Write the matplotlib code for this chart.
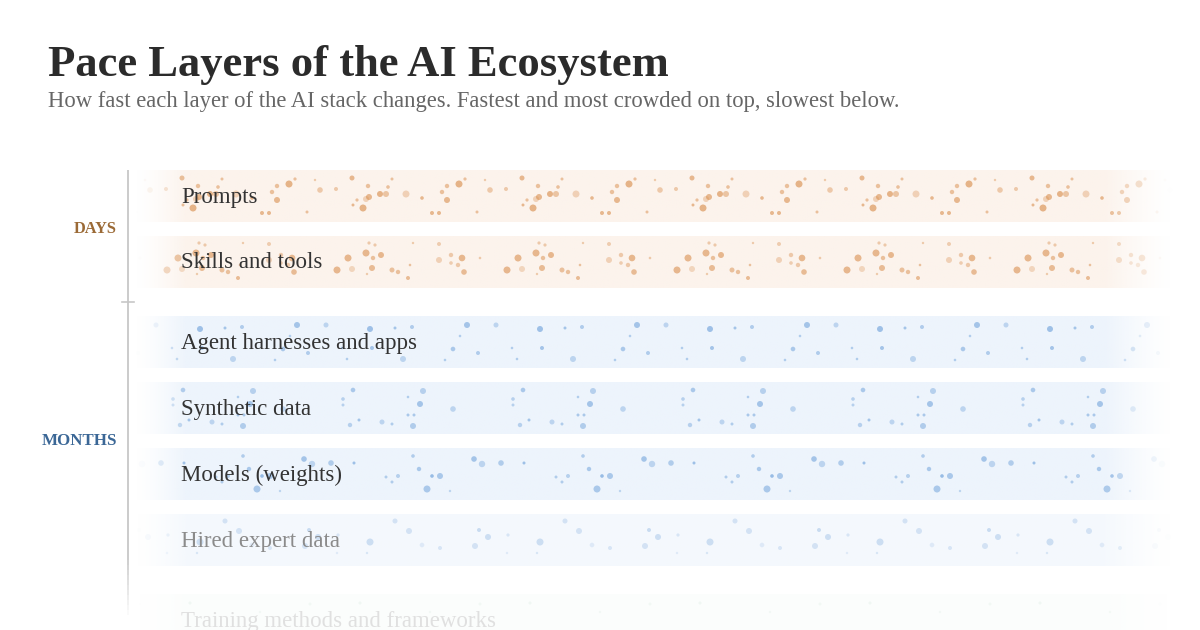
import numpy as np
import matplotlib
matplotlib.use("Agg")
import matplotlib.pyplot as plt
from matplotlib.collections import LineCollection
from matplotlib.colors import to_rgb

# ---------------- data ----------------
title = "Pace Layers of the AI Ecosystem"
subtitle = "How fast each layer of the AI stack changes. Fastest and most crowded on top, slowest below."
layers = ["Prompts", "Skills and tools", "Agent harnesses and apps", "Synthetic data",
          "Models (weights)", "Hired expert data", "Training methods and frameworks"]
layer_group = ["DAYS", "DAYS", "MONTHS", "MONTHS", "MONTHS", "MONTHS", "YEARS"]
groups = ["DAYS", "MONTHS", "YEARS"]

# one repeating tile of particles per layer: (x, y, radius px, opacity)
dots_prompts = [(352,178,2.5,.7),(368,186,2.2,.6),(392,179,1.5,.6),(388,187,1.8,.6),(369,197,3,.7),
                (366,199,3,.4),(357,200,1.6,.6),(353,205,1.5,.7),(363,208,3.5,.75),(380,194,3,.75),
                (386,194,3,.55),(406,194,3.5,.4),(422,198,1.8,.7),(432,213,2,.7),(439,213,2,.7),
                (442,192,2.2,.6),(447,186,2.2,.6),(447,200,3,.7),(459,184,3.5,.75),(465,179,1.6,.6),
                (477,212,1.5,.6),(485,180,1.2,.5),(490,190,2.8,.5),(506,189,2,.5)]
dots_skills = [(369,243,1.6,.5),(375,245,1.6,.5),(413,243,1.2,.5),(348,258,3.5,.7),(366,253,3.5,.7),
               (373,258,2.2,.6),(381,255,3,.7),(352,269,3,.35),(372,268,3,.65),(367,274,1.2,.5),
               (392,270,2.5,.6),(398,272,2.2,.6),(410,265,1.3,.6),(408,278,2,.65),(439,244,2,.45),
               (439,260,3,.4),(451,255,2.2,.5),(462,258,3.3,.7),(451,263,1.8,.45),(458,265,2.2,.5),
               (464,272,2.8,.65),(480,258,1.3,.5),(507,270,3.5,.7)]
dots_agent = [(370,329,3,.65),(395,328,1.5,.6),(412,327,2,.5),(372,348,2,.6),(347,359,1.3,.5),
              (403,359,3,.4),(467,325,3,.6),(496,325,2.5,.4),(460,336,1.3,.5),(453,349,2.3,.55),
              (478,353,2,.5),(445,360,1.3,.5),(342,348,1.3,.5)]
dots_synth = [(353,390,2.3,.55),(343,399,1.8,.45),(343,405,1.5,.45),(423,391,3,.45),(408,397,1.3,.5),
              (420,404,3,.6),(453,409,2.8,.4),(408,415,1.5,.55),(414,415,1.5,.55),(350,425,2.2,.45),
              (359,420,1.5,.6),(382,422,2.5,.4),(392,424,1.5,.5),(413,426,3,.5)]
dots_models = [(354,463,1.5,.65),(413,456,1.8,.5),(419,469,2.2,.55),(386,477,1.5,.5),(392,482,1.5,.5),
               (398,476,2,.45),(432,476,1.8,.7),(440,476,3,.55),(427,489,3.5,.55),(450,491,1.2,.4),
               (474,459,2.8,.6),(482,464,3.2,.4),(501,463,2.8,.5)]
dots_hired = [(395,521,2.5,.45),(409,531,3,.45),(370,542,3.5,.55),(422,545,2.3,.3),(440,548,2,.4),
              (367,553,1.2,.4),(475,546,3,.45),(479,530,2,.6),(488,537,3,.55),(508,535,1.6,.4),
              (507,553,1.2,.3)]
dots_training = [(360,603,1.5,.6),(430,612,1.2,.5),(480,604,1.5,.5)]
layer_dots = [dots_prompts, dots_skills, dots_agent, dots_synth, dots_models, dots_hired, dots_training]

# ---------------- style ----------------
W, H = 1200, 630
band_color = {"DAYS": "#fcf3ec", "MONTHS": "#edf4fc", "YEARS": "#e8f5ec"}
dot_color = {"DAYS": "#d98f4f", "MONTHS": "#5f97d6", "YEARS": "#6fb58a"}
group_color = {"DAYS": "#9b6a36", "MONTHS": "#3b6796", "YEARS": "#4f8a60"}
row_alpha = [1, 1, 1, 1, 1, 0.57, 0.15]
dot_alpha_scale = 0.85
SERIF = ["Liberation Serif", "DejaVu Serif"]

band_x0, band_x1 = 136, 1172
fade_l, fade_r = 186, 1105
band_h, row_step, group_gap = 52, 66, 14
top0 = 170
tile_w = 170

def xfade(x):
    x = np.asarray(x, float)
    a = np.clip((x - band_x0) / (fade_l - band_x0), 0, 1) * np.clip((band_x1 - x) / (band_x1 - fade_r), 0, 1)
    return a ** 1.3

fig = plt.figure(figsize=(W / 100, H / 100), dpi=100)
ax = fig.add_axes([0, 0, 1, 1])
ax.set_xlim(0, W)
ax.set_ylim(H, 0)
ax.axis("off")

def fit(txt, target):
    r = fig.canvas.get_renderer()
    w = txt.get_window_extent(r).width
    txt.set_fontsize(txt.get_fontsize() * target / w)

# row tops
tops = []
y = top0
for i, g in enumerate(layer_group):
    if i > 0 and g != layer_group[i - 1]:
        y += group_gap
    tops.append(y)
    y += row_step

xs = np.linspace(band_x0, band_x1, 600)
fa = xfade(xs)
label_texts = []
for i, (name, g) in enumerate(zip(layers, layer_group)):
    t = tops[i]
    ra = row_alpha[i]
    rgba = np.zeros((1, len(xs), 4))
    rgba[..., :3] = to_rgb(band_color[g])
    rgba[..., 3] = fa * ra
    ax.imshow(rgba, extent=(band_x0, band_x1, t + band_h, t), aspect="auto",
              interpolation="bilinear", zorder=1)
    # particles, tiled along the band
    dx, dy, dr, da = [], [], [], []
    for k in range(-2, 6):
        for (px, py, pr, pa) in layer_dots[i]:
            x = px + k * tile_w
            if band_x0 < x < band_x1:
                dx.append(x); dy.append(py); dr.append(pr); da.append(pa)
    dx = np.array(dx); dr = np.array(dr)
    cols = np.zeros((len(dx), 4))
    cols[:, :3] = to_rgb(dot_color[g])
    cols[:, 3] = np.array(da) * dot_alpha_scale * xfade(dx) * ra
    ax.scatter(dx, dy, s=(1.44 * dr) ** 2, c=cols, linewidths=0, zorder=2)
    # label
    c = np.array(to_rgb("#333333"))
    c = 1 - (1 - c) * ra
    tx = ax.text(181, t + band_h / 2 + 1, name, fontsize=16.4, family=SERIF, color=tuple(c),
                 va="center", ha="left", zorder=5)
    label_texts.append(tx)

fit(label_texts[2], 236)
for tx in label_texts:
    tx.set_fontsize(label_texts[2].get_fontsize())

# vertical axis line (fading at the bottom)
ys = np.linspace(170, 615, 90)
segs = [[(128, ys[j]), (128, ys[j + 1])] for j in range(len(ys) - 1)]
la = np.clip((615 - ys[:-1]) / 60, 0, 1)
lcol = [(0.78, 0.78, 0.78, a) for a in la]
ax.add_collection(LineCollection(segs, colors=lcol, linewidths=1.3, zorder=3))

# group labels and separator tick
group_width = {"DAYS": 43, "MONTHS": 75}
for gi, g in enumerate(groups):
    idx = [i for i, lg in enumerate(layer_group) if lg == g]
    if g == "YEARS":
        continue
    yc = (tops[idx[0]] + tops[idx[-1]] + band_h) / 2
    gt = ax.text(117, yc, g, fontsize=11.5, family=SERIF, fontweight="bold", color=group_color[g],
                 ha="right", va="center", zorder=5)
    fit(gt, group_width[g])
    if g == "DAYS":
        ysep = (tops[idx[-1]] + band_h + tops[idx[-1] + 1]) / 2
        ax.plot([122, 134], [ysep, ysep], color=(0.78, 0.78, 0.78), lw=1.2, zorder=3)

# title & subtitle
t1 = ax.text(48, 76, title, fontsize=30, family=SERIF, fontweight="bold", color="#2b2b2b",
             ha="left", va="baseline")
t2 = ax.text(48, 107, subtitle, fontsize=14, family=SERIF, color="#666666",
             ha="left", va="baseline")
fit(t1, 620)
fit(t2, 854)

fig.savefig("out.png", dpi=100, facecolor="white")
